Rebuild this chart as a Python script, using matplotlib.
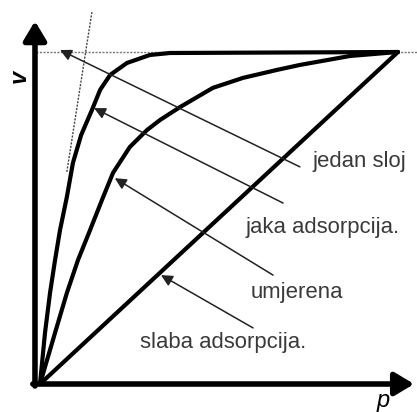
import matplotlib
matplotlib.use('Agg')
import matplotlib.pyplot as plt

# Izoterme adsorpcije: p (relativni tlak) i v (adsorbirani volumen), normirano na 0..1
p_jaka = [0.0, 0.014, 0.028, 0.042, 0.056, 0.075, 0.092, 0.115, 0.145, 0.168,
          0.196, 0.243, 0.307, 0.363, 1.0]
v_jaka = [0.0, 0.154, 0.274, 0.373, 0.464, 0.563, 0.666, 0.750, 0.825, 0.886,
          0.931, 0.967, 0.991, 0.997, 1.0]

p_umjerena = [0.0, 0.042, 0.075, 0.106, 0.140, 0.173, 0.204, 0.251, 0.299, 0.335,
              0.391, 0.483, 0.567, 0.662, 0.726, 0.866, 1.0]
v_umjerena = [0.0, 0.154, 0.274, 0.373, 0.464, 0.554, 0.636, 0.714, 0.765, 0.795,
              0.834, 0.892, 0.922, 0.946, 0.961, 0.988, 1.0]

p_slaba = [0.0, 1.0]
v_slaba = [0.0, 1.0]

v_sloj = 1.0  # razina jednog sloja (monosloj)
tangenta_p = [0.075, 0.145]
tangenta_v = [0.639, 1.120]

# Oznake i točke na koje pokazuju strelice
oznake = ['jedan sloj', 'jaka adsorpcija.', 'umjerena', 'slaba adsorpcija.']
vrh_p = [0.056, 0.151, 0.209, 0.338]
vrh_v = [1.006, 0.831, 0.620, 0.328]
rep_p = [0.726, 0.679, 0.651, 0.595]
rep_v = [0.654, 0.545, 0.328, 0.169]
tekst_p = [0.760, 0.573, 0.587, 0.279]
tekst_v = [0.654, 0.455, 0.259, 0.108]

fig = plt.figure(figsize=(4.17, 4.12), dpi=100)
ax = fig.add_axes([0, 0, 1, 1])
ax.set_xlim(-0.1117, 1.0531)
ax.set_ylim(-0.0843, 1.1566)
ax.axis('off')

# isprekidane pomoćne linije
ax.plot([-0.01, 1.06], [v_sloj, v_sloj], color='#777777', lw=1.0, ls=(0, (1.5, 1)))
ax.plot(tangenta_p, tangenta_v, color='#444444', lw=1.0, ls=(0, (1.5, 1)))

# krivulje
for p, v in [(p_jaka, v_jaka), (p_umjerena, v_umjerena), (p_slaba, v_slaba)]:
    ax.plot(p, v, color='black', lw=3.0, solid_joinstyle='round', solid_capstyle='round')

# osi sa strelicama
os_stil = dict(arrowstyle='-|>,head_length=0.5,head_width=0.3', lw=4,
               mutation_scale=23, color='black', shrinkA=0, shrinkB=0)
ax.annotate('', xy=(-0.014, 1.093), xytext=(-0.014, -0.006), arrowprops=os_stil)
ax.annotate('', xy=(1.045, 0.0), xytext=(-0.02, 0.0), arrowprops=os_stil)

ax.text(-0.059, 0.925, 'v', rotation=90, fontsize=17, style='italic', fontweight='bold',
        fontfamily='Liberation Sans', ha='center', va='center', color='black')
ax.text(0.958, -0.051, 'p', fontsize=17, style='italic',
        fontfamily='Liberation Sans', ha='center', va='center', color='black')

# strelice s oznakama
for i, oznaka in enumerate(oznake):
    ax.annotate('', xy=(vrh_p[i], vrh_v[i]), xytext=(rep_p[i], rep_v[i]),
                arrowprops=dict(arrowstyle='-|>', lw=1.1, color='#222222',
                                mutation_scale=17, shrinkA=0, shrinkB=0))
    ax.text(tekst_p[i], tekst_v[i], oznaka, fontsize=15.9, fontfamily='Liberation Sans',
            color='#3a3a3a', ha='left', va='baseline')

fig.savefig('out.png', dpi=100)
